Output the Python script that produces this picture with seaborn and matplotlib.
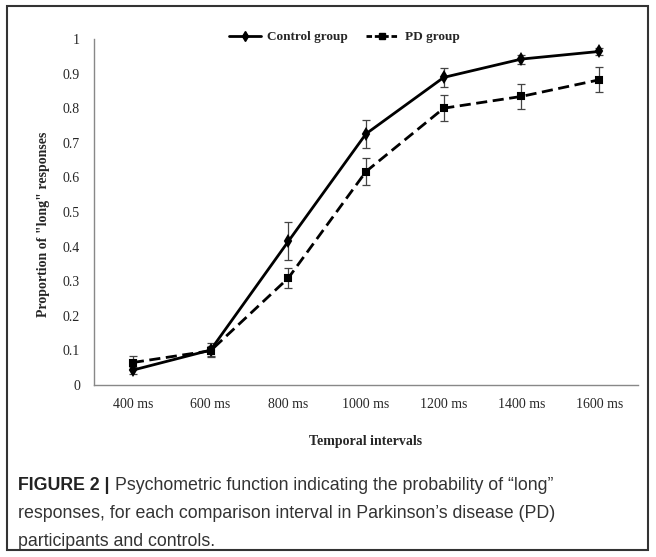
import numpy as np
import pandas as pd
import matplotlib.pyplot as plt
import seaborn as sns
from matplotlib.patches import Rectangle
from matplotlib.lines import Line2D

# values
intervals = ['400 ms', '600 ms', '800 ms', '1000 ms', '1200 ms', '1400 ms', '1600 ms']
control = [0.043, 0.101, 0.415, 0.726, 0.889, 0.942, 0.964]
control_err = [0.010, 0.020, 0.055, 0.040, 0.027, 0.013, 0.010]
pd_group = [0.065, 0.099, 0.309, 0.617, 0.800, 0.834, 0.882]
pd_err = [0.020, 0.015, 0.030, 0.040, 0.037, 0.036, 0.036]

df = pd.DataFrame({
    'interval': intervals * 2,
    'prop': control + pd_group,
    'group': ['Control group'] * len(intervals) + ['PD group'] * len(intervals),
})

sns.set_style('white')
plt.rcParams['font.family'] = ['Liberation Serif', 'DejaVu Serif']

fig = plt.figure(figsize=(6.56, 5.57), dpi=100)
ax = fig.add_axes([94 / 656, 1 - 385 / 557, (638 - 94) / 656, (385 - 39) / 557])

sns.pointplot(data=df, x='interval', y='prop', hue='group', order=intervals,
              markers=['d', 's'], linestyles=['-', '--'],
              palette=['black', 'black'], errorbar=None, ax=ax,
              markersize=5, linewidth=2, legend=False)

# error bars
pos = np.arange(len(intervals))
ax.errorbar(pos, control, yerr=control_err, fmt='none', ecolor='#444444',
            elinewidth=0.9, capsize=3, capthick=0.9, zorder=1)
ax.errorbar(pos, pd_group, yerr=pd_err, fmt='none', ecolor='#444444',
            elinewidth=0.9, capsize=3, capthick=0.9, zorder=1)

# dashes a bit tighter, like the original
for ln in ax.lines:
    if ln.get_linestyle() == '--':
        ln.set_dashes([4, 2])

ax.set_xlim(-0.5, len(intervals) - 0.5)
ax.set_ylim(0, 1)
ax.set_yticks(np.arange(0, 1.01, 0.1))
ax.set_yticklabels(['0', '0.1', '0.2', '0.3', '0.4', '0.5', '0.6', '0.7', '0.8', '0.9', '1'])
ax.set_xticks(pos)
ax.set_xticklabels(intervals)
ax.set_xticks(np.arange(-0.5, len(intervals), 1.0), minor=True)
ax.tick_params(axis='x', which='major', length=0, pad=9, labelsize=10)
ax.tick_params(axis='x', which='minor', length=4, direction='inout', color='#888888', width=1)
ax.tick_params(axis='y', length=4, direction='out', color='#888888', width=1, labelsize=10, pad=6)

for side in ['top', 'right']:
    ax.spines[side].set_visible(False)
for side in ['left', 'bottom']:
    ax.spines[side].set_color('#888888')
    ax.spines[side].set_linewidth(1)

ax.set_xlabel('Temporal intervals', fontweight='bold', fontsize=10)
ax.xaxis.set_label_coords(0.5, -0.145)
ax.set_ylabel('Proportion of "long" responses', fontweight='bold', fontsize=10)
ax.yaxis.set_label_coords(-0.08, 0.465)

handles = [
    Line2D([], [], color='black', lw=2, marker='d', markersize=5),
    Line2D([], [], color='black', lw=2, ls=(0, (2, 1)), marker='s', markersize=5),
]
ax.legend(handles, ['Control group', 'PD group'], loc='center',
          bbox_to_anchor=(0.46, 1.005), ncol=2, frameon=False,
          prop={'weight': 'bold', 'size': 9.5}, handlelength=2.4,
          columnspacing=1.4, handletextpad=0.5)

# outer frame
fig.patches.append(Rectangle((7 / 656, 1 - 550 / 557), (648 - 7) / 656, (550 - 6) / 557,
                             transform=fig.transFigure, fill=False,
                             edgecolor='#333333', linewidth=1.5))

# caption
cap_font = ['Liberation Sans', 'DejaVu Sans']
y1 = 1 - 486 / 557
head = fig.text(18 / 656, y1, 'FIGURE 2 |', fontweight='bold', fontsize=12.8,
                family=cap_font, va='center', color='#222222')
fig.canvas.draw()
bb = head.get_window_extent().transformed(fig.transFigure.inverted())
fig.text(bb.x1 + 5 / 656, y1, 'Psychometric function indicating the probability of \u201clong\u201d',
         fontsize=12.8, family=cap_font, va='center', color='#333333')
fig.text(18 / 656, 1 - 514 / 557,
         'responses, for each comparison interval in Parkinson\u2019s disease (PD)',
         fontsize=12.8, family=cap_font, va='center', color='#333333')
fig.text(18 / 656, 1 - 541 / 557, 'participants and controls.',
         fontsize=12.8, family=cap_font, va='center', color='#333333')

fig.savefig('out.png', dpi=100)
